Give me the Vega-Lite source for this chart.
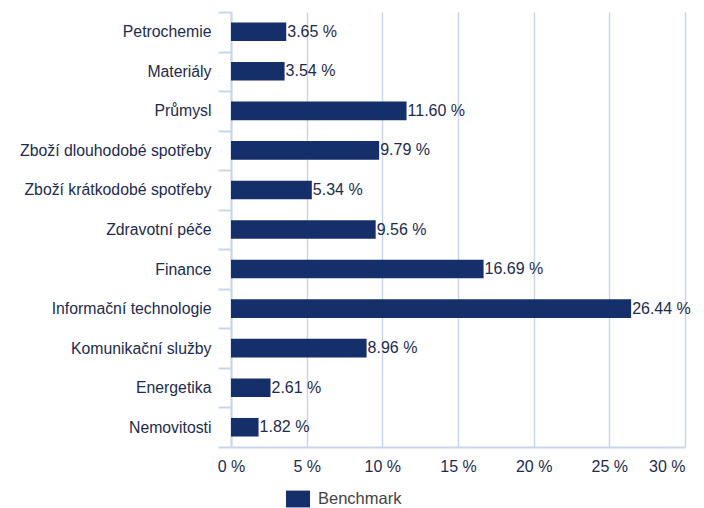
{
  "$schema": "https://vega.github.io/schema/vega-lite/v6.json",
  "width": 454,
  "height": 435,
  "autosize": "none",
  "padding": {"left": 231, "top": 12, "right": 19, "bottom": 61},
  "background": "white",
  "config": {"font": "Liberation Sans", "view": {"stroke": null}},
  "data": {"values": [
    {"sektor": "Petrochemie", "v": 3.65, "s": "Benchmark"},
    {"sektor": "Materiály", "v": 3.54, "s": "Benchmark"},
    {"sektor": "Průmysl", "v": 11.60, "s": "Benchmark"},
    {"sektor": "Zboží dlouhodobé spotřeby", "v": 9.79, "s": "Benchmark"},
    {"sektor": "Zboží krátkodobé spotřeby", "v": 5.34, "s": "Benchmark"},
    {"sektor": "Zdravotní péče", "v": 9.56, "s": "Benchmark"},
    {"sektor": "Finance", "v": 16.69, "s": "Benchmark"},
    {"sektor": "Informační technologie", "v": 26.44, "s": "Benchmark"},
    {"sektor": "Komunikační služby", "v": 8.96, "s": "Benchmark"},
    {"sektor": "Energetika", "v": 2.61, "s": "Benchmark"},
    {"sektor": "Nemovitosti", "v": 1.82, "s": "Benchmark"}
  ]},
  "transform": [{"calculate": "format(datum.v, '.2f') + ' %'", "as": "label"}],
  "encoding": {
    "y": {"field": "sektor", "type": "nominal", "sort": null, "title": null,
      "scale": {"paddingInner": 0, "paddingOuter": 0},
      "axis": {"tickBand": "extent", "ticks": true, "tickSize": 13, "tickColor": "#c9d6ea", "domainColor": "#c9d6ea", "domainWidth": 2, "tickWidth": 2, "labelPadding": 7, "labelFontSize": 15.8, "labelLimit": 0, "labelColor": "#1c2b50", "grid": false}}
  },
  "layer": [
    {"mark": {"type": "bar", "height": {"band": 0.47}, "color": "#142f69"},
      "encoding": {
        "x": {"field": "v", "type": "quantitative", "title": null,
          "scale": {"domain": [0, 30], "nice": false},
          "axis": {"values": [0, 5, 10, 15, 20, 25, 30], "labelExpr": "datum.value + ' %'", "ticks": false, "grid": true, "gridColor": "#c9d6ea", "gridWidth": 1.5, "domainColor": "#c9d6ea", "domainWidth": 2, "labelPadding": 11, "labelFontSize": 16, "labelColor": "#1c2b50",
            "labelAlign": {"condition": {"test": "datum.value == 30", "value": "right"}, "value": "center"}}},
        "color": {"field": "s", "type": "nominal", "scale": {"range": ["#142f69"]},
          "legend": {"title": null, "orient": "none", "legendX": 55, "legendY": 475, "padding": 0, "symbolType": "M-1,-0.7H1V0.7H-1Z", "symbolSize": 576, "symbolStrokeWidth": 0, "labelFontSize": 16.5, "labelColor": "#444444", "labelOffset": 8}}
      }},
    {"mark": {"type": "text", "align": "left", "dx": 1, "fontSize": 16, "color": "#1c2b50"},
      "encoding": {"x": {"field": "v", "type": "quantitative"}, "text": {"field": "label"}}}
  ]
}
